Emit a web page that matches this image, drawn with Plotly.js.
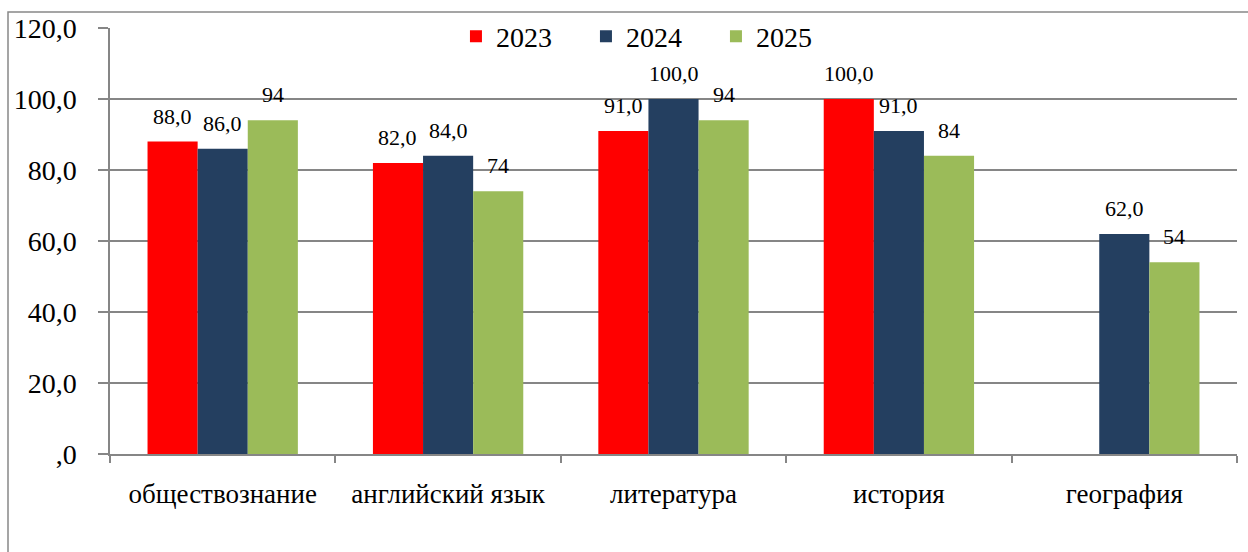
<!DOCTYPE html>
<html>
<head>
<meta charset="utf-8">
<script src="https://cdn.plot.ly/plotly-3.0.1.min.js"></script>
<style>html,body{margin:0;padding:0;background:#fff;}</style>
</head>
<body>
<div id="chart" style="width:1248px;height:552px"></div>
<script>
const categories = ['обществознание', 'английский язык', 'литература', 'история', 'география'];
const seriesNames = ['2023', '2024', '2025'];
const values2023 = [88, 82, 91, 100, null];
const values2024 = [86, 84, 100, 91, 62];
const values2025 = [94, 74, 94, 84, 54];
const colors = ['#FF0000', '#243F60', '#9BBB59'];
const yTickVals = [0, 20, 40, 60, 80, 100, 120];
const yTickText = [',0', '20,0', '40,0', '60,0', '80,0', '100,0', '120,0'];

const allSeries = [values2023, values2024, values2025];
const fmt = [v => v.toFixed(1).replace('.', ','), v => v.toFixed(1).replace('.', ','), v => String(Math.round(v))];

const bargap = 0.333;
const barW = (1 - bargap) / 3;

const traces = allSeries.map((vals, i) => ({
  type: 'bar',
  name: seriesNames[i],
  x: categories,
  y: vals,
  marker: { color: colors[i] },
  hoverinfo: 'none'
}));

const annotations = [];
allSeries.forEach((vals, i) => {
  vals.forEach((v, j) => {
    if (v === null) return;
    annotations.push({
      x: j + (i - 1) * barW,
      y: v,
      xref: 'x', yref: 'y',
      text: fmt[i](v),
      showarrow: false,
      yanchor: 'bottom',
      yshift: 11,
      font: { family: 'Liberation Serif', size: 22 }
    });
  });
});

const layout = {
  width: 1248,
  height: 552,
  margin: { l: 110, r: 11, t: 28, b: 98 },
  barmode: 'group',
  bargap: bargap,
  bargroupgap: 0,
  font: { family: 'Liberation Serif', color: '#000000' },
  showlegend: true,
  legend: {
    orientation: 'h',
    x: 0.48, xanchor: 'center',
    y: 0.98, yanchor: 'middle',
    bgcolor: 'rgba(0,0,0,0)',
    font: { family: 'Liberation Serif', size: 28 },
    itemwidth: 30,
    entrywidth: 85,
    entrywidthmode: 'pixels'
  },
  xaxis: {
    type: 'category',
    showline: true, linecolor: '#868686', linewidth: 1.5,
    ticks: 'outside', tickson: 'boundaries', ticklen: 7, tickcolor: '#868686', tickwidth: 1.5,
    ticklabelstandoff: 15,
    tickfont: { family: 'Liberation Serif', size: 27 },
    showgrid: false
  },
  yaxis: {
    range: [0, 120],
    tickvals: yTickVals, ticktext: yTickText,
    showline: true, linecolor: '#868686', linewidth: 1.5,
    ticks: 'outside', ticklen: 10, tickcolor: '#868686', tickwidth: 1.5,
    ticklabelstandoff: 16,
    tickfont: { family: 'Liberation Serif', size: 28 },
    showgrid: true, gridcolor: '#868686', gridwidth: 1.5,
    zeroline: false
  },
  annotations: annotations,
  shapes: [{
    type: 'rect', xref: 'paper', yref: 'paper',
    x0: (8 - 110) / 1127, x1: 1.2,
    y0: -0.5, y1: 1 + 16 / 426,
    line: { color: '#888888', width: 1.5 },
    fillcolor: 'rgba(0,0,0,0)',
    layer: 'below'
  }]
};

Plotly.newPlot('chart', traces, layout, { displayModeBar: false });
</script>
</body>
</html>
